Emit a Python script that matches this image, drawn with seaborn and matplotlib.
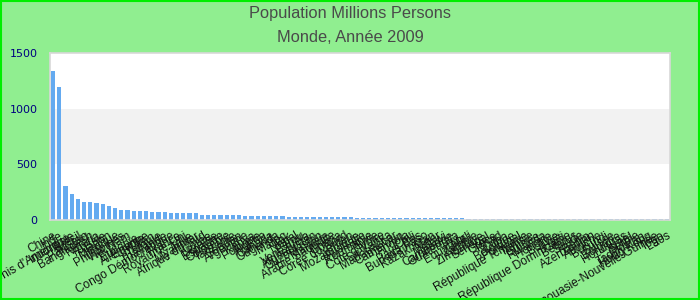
import matplotlib
matplotlib.use("Agg")
import matplotlib.pyplot as plt
import seaborn as sns
import pandas as pd
from matplotlib.patches import Rectangle

countries = [
    "Chine", "Inde", "États-Unis d'Amérique", "Indonésie", "Brésil", "Pakistan",
    "Bangladesh", "Nigéria", "Russie", "Japon", "Mexique", "Philippines",
    "Viet Nam", "Éthiopie", "Égypte", "Allemagne", "Iran", "Turquie",
    "Thaïlande", "Congo Démocratique", "France", "Royaume-Uni", "Italie", "Myanmar",
    "Afrique du Sud", "Corée", "Ukraine", "Espagne", "Colombie", "Tanzanie",
    "Soudan", "Argentine", "Kenya", "Pologne", "Algérie", "Canada",
    "Ouganda", "Maroc", "Irak", "Népal", "Pérou", "Venezuela",
    "Afghanistan", "Ouzbékistan", "Malaisie", "Arabie Saoudite", "Ghana", "Corée du Nord",
    "Yémen", "Mozambique", "Australie", "Roumanie", "Syrie", "Côte d'Ivoire",
    "Sri Lanka", "Madagascar", "Cameroun", "Angola", "Chili", "Pays-Bas",
    "Burkina Faso", "Kazakhstan", "Niger", "Malawi", "Cambodge", "Guatemala",
    "Équateur", "Mali", "Zambie", "Zimbabwe", "Sénégal", "Grèce",
    "Tchad", "Cuba", "Belgique", "Portugal", "République Tchèque", "Tunisie",
    "Guinée", "Rwanda", "Hongrie", "Bolivie", "Haïti", "République Dominicaine",
    "Bélarus", "Suède", "Bénin", "Azerbaïdjan", "Autriche", "Burundi",
    "Suisse", "Bulgarie", "Honduras", "Israël", "Serbie", "Tadjikistan",
    "Hong Kong", "Papouasie-Nouvelle-Guinée", "Togo", "Laos",
]
population = [
    1334, 1198, 307, 230, 191, 166,
    162, 155, 142, 127, 107, 92,
    88, 83, 83, 82, 74, 72,
    68, 66, 63, 62, 60, 59,
    49, 48.7, 46, 46, 45, 43.7,
    40.5, 40, 39.8, 38, 35, 33.7,
    32.7, 32, 30.7, 29.3, 29.1, 28.4,
    28.2, 27.5, 27.5, 25.4, 23.9, 23.8,
    23.6, 19.5, 19.0, 18.8, 18.5, 18.2,
    18.0, 17.8, 17.5, 17.2, 17.0, 16.5,
    15.8, 15.6, 15.3, 15.3, 14.8, 14.0,
    13.6, 13.0, 11.5, 11.3, 11.2, 11.2,
    11.1, 11.0, 10.8, 10.6, 10.5, 10.4,
    10.1, 10.0, 10.0, 9.9, 9.9, 9.9,
    9.7, 9.3, 8.9, 8.8, 8.4, 8.3,
    7.7, 7.6, 7.5, 7.4, 7.3, 7.0,
    7.0, 6.7, 6.6, 6.3,
]
title_lines = ["Population Millions Persons", "Monde, Année 2009"]
yticks = [0, 500, 1000, 1500]

df = pd.DataFrame({"pays": countries, "pop": population})

fig = plt.figure(figsize=(7, 3), dpi=100, facecolor="#90EE90")
ax = fig.add_axes([50/700, 1-220/300, 620/700, 167/300])
ax.set_facecolor("white")
ax.axhspan(500, 1000, color="#f2f2f2", zorder=0, lw=0)

sns.barplot(data=df, x="pays", y="pop", color="#64aaf0", width=0.65,
            saturation=1, ax=ax, zorder=2)

ax.set_ylim(0, 1500)
ax.set_xlim(-0.5, len(countries) - 0.5)
ax.set_yticks(yticks)
ax.set_yticklabels([str(v) for v in yticks], color="#000080", fontsize=8,
                   family="DejaVu Sans")
ax.tick_params(axis="y", length=0, pad=9)
ax.tick_params(axis="x", length=0, pad=7)
ax.set_xticks(range(len(countries)))
ax.set_xticklabels(countries, rotation=30, ha="right", rotation_mode="anchor",
                   fontsize=8.5, color="#111111", family=["Liberation Sans", "DejaVu Sans"])
ax.set_xlabel("")
ax.set_ylabel("")
for s in ax.spines.values():
    s.set_color("#d8d8d8")
    s.set_linewidth(1.2)

for line, base in zip(title_lines, [18.3, 41.7]):
    fig.text(0.5, 1 - base/300, line, ha="center", va="baseline", fontsize=11.8,
             color="#4a4a4a", family=["Liberation Sans", "DejaVu Sans"])

fig.patches.append(Rectangle((0.001, 0.002), 0.998, 0.996, transform=fig.transFigure,
                             fill=False, edgecolor="#00ee00", linewidth=1.5))

fig.savefig("out.png", dpi=100, facecolor=fig.get_facecolor())
